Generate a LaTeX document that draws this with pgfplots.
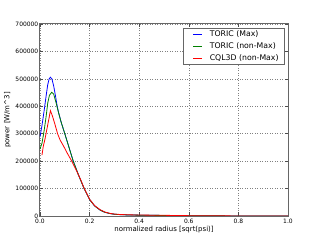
\documentclass[border=0pt]{standalone}
\usepackage{pgfplots}
\pgfplotsset{compat=1.18}
\usepackage{fontspec}
\setmainfont{DejaVu Sans}
\definecolor{mblue}{rgb}{0,0,1}
\definecolor{mgreen}{rgb}{0,0.5,0}
\definecolor{mred}{rgb}{1,0,0}
\begin{document}
\begin{tikzpicture}
\useasboundingbox (-40bp,-24bp) rectangle (280bp,216bp);
\begin{axis}[
  at={(0bp,0bp)}, anchor=south west,
  scale only axis, width=248bp, height=192bp,
  xmin=0, xmax=1, ymin=0, ymax=700000,
  xtick={0,0.2,0.4,0.6,0.8,1.0},
  ytick={0,100000,200000,300000,400000,500000,600000,700000},
  scaled y ticks=false, scaled x ticks=false,
  /pgf/number format/assume math mode=true,
  xticklabel style={/pgf/number format/fixed, /pgf/number format/fixed zerofill, /pgf/number format/precision=1, inner xsep=0bp, inner ysep=2.4bp},
  yticklabel style={/pgf/number format/fixed, /pgf/number format/1000 sep={}, inner xsep=1.5bp, inner ysep=0bp},
  tick label style={font=\fontsize{6}{7}\selectfont},
  tick align=inside, major tick length=3.5bp,
  tick style={black!70, line width=0.6bp},
  axis line style={black!60, line width=1bp},
  grid=major,
  major grid style={black!50, line width=0.5bp, dash pattern=on 1bp off 1.5bp},
  xlabel={normalized radius [sqrt(psi)]},
  ylabel={power [W/m\^{}3]},
  label style={font=\fontsize{7}{8}\selectfont},
  xlabel style={at={(axis description cs:0.5,0)}, anchor=center, yshift=-14bp},
  ylabel style={at={(axis description cs:-0.131,0.5)}, anchor=center},
  legend style={at={(axis description cs:0.985,0.979)}, anchor=north east,
    draw=black!60, line width=0.7bp, fill=white,
    font=\fontsize{7.8}{9}\selectfont,
    inner xsep=5.3bp, inner ysep=2.5bp, row sep=3.7bp, column sep=7.3bp,
    nodes={inner sep=0bp, text height=6bp, text depth=2bp}},
  legend cell align=left,
  legend image code/.code={\path (0bp,0bp); \draw[#1, line width=0.8bp] (4bp,0bp) -- (12.7bp,0bp);},
  every axis plot/.append style={line width=0.8bp},
]
\addplot[draw=mblue] coordinates {
(0.000,289000) (0.008,330000) (0.017,386000) (0.025,440000) (0.031,478000)
(0.037,500000) (0.042,506000) (0.048,500000) (0.055,475000) (0.062,440000)
(0.070,397000) (0.075,377000) (0.085,343000) (0.100,300000) (0.117,250000)
(0.134,200000) (0.155,150000) (0.178,100000) (0.200,60000) (0.220,37000)
(0.242,22000) (0.260,14000) (0.282,9000) (0.300,6500) (0.323,5000)
(0.350,4000) (0.400,3000) (0.500,2000) (0.600,1000) (0.700,500)
(0.800,200) (0.900,50) (1.000,0)
};
\addlegendentry{TORIC (Max)}
\addplot[draw=mgreen] coordinates {
(0.000,244000) (0.008,265000) (0.017,313000) (0.025,365000) (0.031,411000)
(0.038,440000) (0.047,451000) (0.055,445000) (0.065,412000) (0.075,376000)
(0.085,343000) (0.100,300000) (0.117,250000) (0.134,200000) (0.155,150000)
(0.178,100000) (0.200,60000) (0.220,37000) (0.242,22000) (0.260,14000)
(0.282,9000) (0.300,6500) (0.323,5000) (0.350,4000) (0.400,3000)
(0.500,2000) (0.600,1000) (0.700,500) (0.800,200) (0.900,50) (1.000,0)
};
\addlegendentry{TORIC (non-Max)}
\addplot[draw=mred] coordinates {
(0.008,222000) (0.013,253000) (0.020,280000) (0.027,313000) (0.035,350000)
(0.042,384000) (0.050,365000) (0.060,335000) (0.071,300000) (0.081,277000)
(0.095,255000) (0.110,229000) (0.128,200000) (0.150,160000) (0.165,130000)
(0.178,101000) (0.200,61000) (0.220,38000) (0.242,23000) (0.260,15000)
(0.282,9500) (0.300,7000) (0.323,5500) (0.350,4500) (0.400,3500)
(0.500,2500) (0.600,1200) (0.700,600) (0.800,250) (0.900,80) (1.000,0)
};
\addlegendentry{CQL3D (non-Max)}
\end{axis}
\end{tikzpicture}
\end{document}
